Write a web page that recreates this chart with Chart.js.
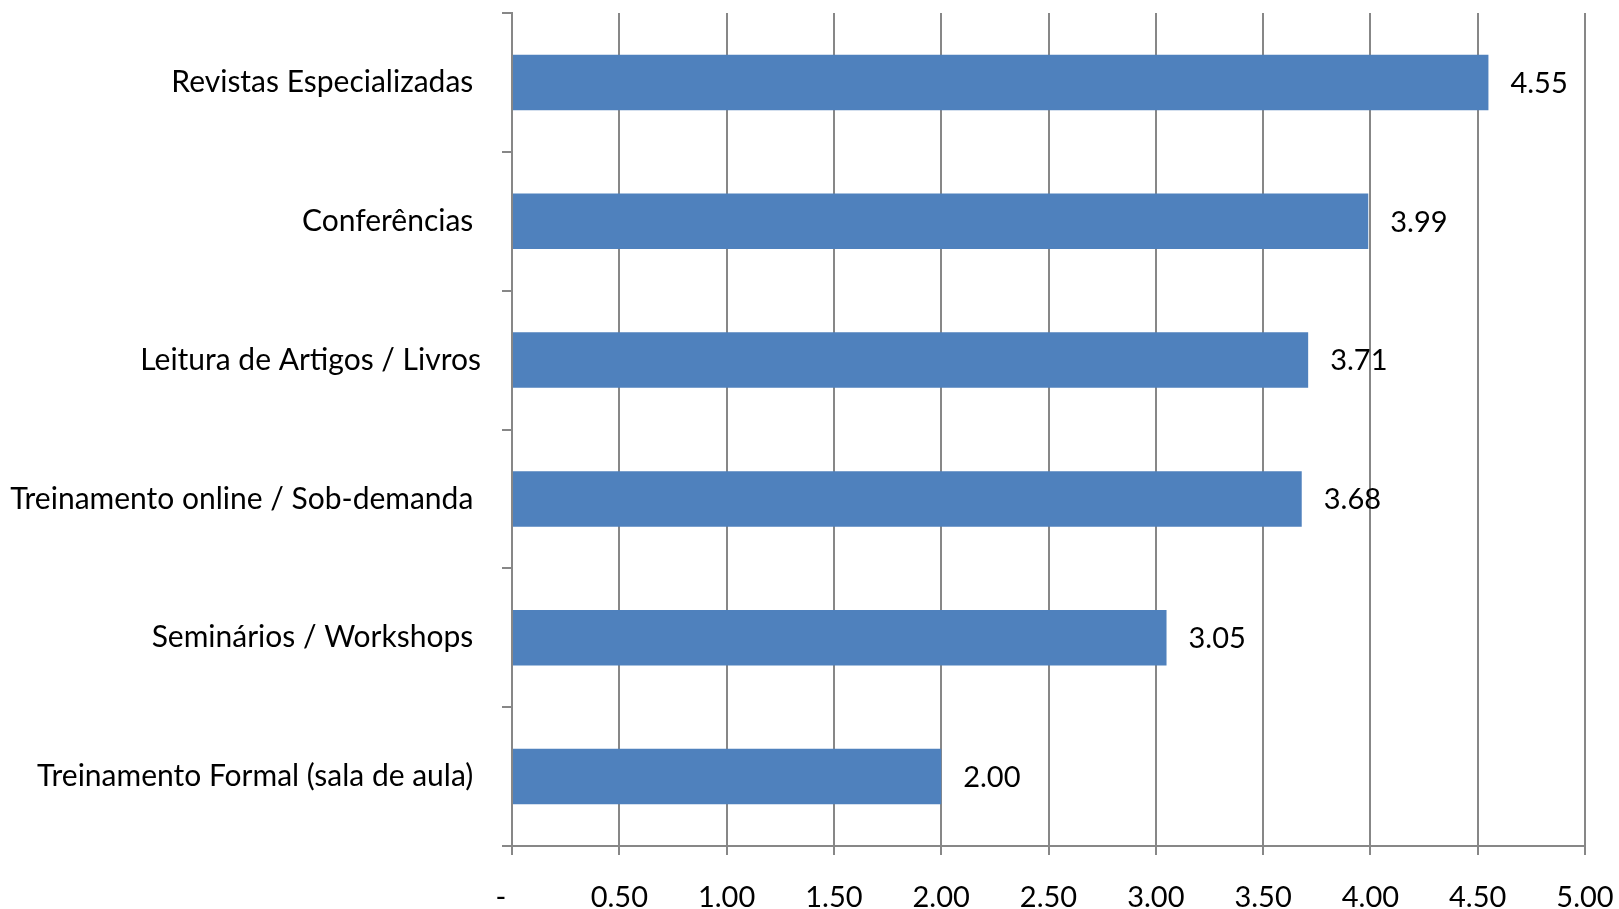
<!DOCTYPE html>
<html>
<head>
<meta charset="utf-8">
<script src="https://cdn.jsdelivr.net/npm/chart.js@4/dist/chart.umd.min.js"></script>
<style>
  html, body { margin: 0; padding: 0; background: #fff; }
  #wrap { width: 1619px; height: 909px; position: relative; }
</style>
</head>
<body>
<div id="wrap"><canvas id="chart"></canvas></div>
<script>
// categories and average scores (top to bottom)
const categories = [
  "Revistas Especializadas ",
  "Conferências ",
  "Leitura de Artigos / Livros",
  "Treinamento online / Sob-demanda ",
  "Seminários / Workshops ",
  "Treinamento Formal (sala de aula) "
];
const scores = [4.55, 3.99, 3.71, 3.68, 3.05, 2.00];
const xTicks = [0, 0.5, 1, 1.5, 2, 2.5, 3, 3.5, 4, 4.5, 5];

const FONT = "Lato, 'Open Sans', sans-serif";
const GRID = "#878787";

// draws the value next to the end of each bar
const valueLabels = {
  id: "valueLabels",
  afterDatasetsDraw(chart) {
    const ctx = chart.ctx;
    const meta = chart.getDatasetMeta(0);
    ctx.save();
    ctx.font = "29px " + FONT;
    ctx.fillStyle = "#000";
    ctx.textAlign = "left";
    ctx.textBaseline = "middle";
    meta.data.forEach((bar, i) => {
      ctx.fillText(scores[i].toFixed(2), bar.x + 22, bar.y + 1);
    });
    ctx.restore();
  }
};

new Chart(document.getElementById("chart"), {
  type: "bar",
  data: {
    labels: categories,
    datasets: [{
      data: scores,
      backgroundColor: "#4F81BD",
      borderWidth: 0,
      barPercentage: 0.4,
      categoryPercentage: 1
    }]
  },
  options: {
    indexAxis: "y",
    responsive: true,
    maintainAspectRatio: false,
    animation: false,
    layout: { padding: { top: 13, right: 34, left: 0, bottom: 0 } },
    plugins: { legend: { display: false }, tooltip: { enabled: false } },
    scales: {
      x: {
        type: "linear",
        min: 0,
        max: 5,
        afterBuildTicks(axis) { axis.ticks = xTicks.map(v => ({ value: v })); },
        afterFit(axis) {
          axis.height = 909 - 846;
          axis.paddingLeft = 0;
          axis.paddingRight = 0;
        },
        grid: { color: GRID, lineWidth: 2, tickLength: 9 },
        border: { color: GRID, width: 2 },
        ticks: {
          color: "#000",
          padding: 25,
          font: { family: FONT, size: 29 },
          callback: v => v === 0 ? "-   " : v.toFixed(2)
        }
      },
      y: {
        afterFit(axis) {
          axis.width = 512;
          axis.paddingTop = 0;
          axis.paddingBottom = 0;
        },
        grid: { drawOnChartArea: false, color: GRID, lineWidth: 2, tickLength: 10 },
        border: { color: GRID, width: 2 },
        ticks: {
          color: "#000",
          padding: 21,
          font: { family: FONT, size: 30 }
        }
      }
    }
  },
  plugins: [valueLabels]
});
</script>
</body>
</html>
